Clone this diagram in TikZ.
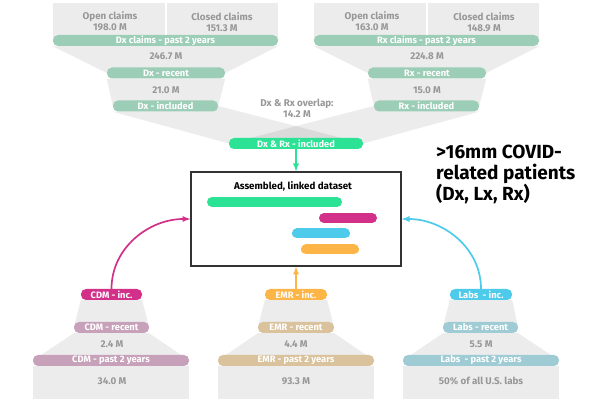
\documentclass[tikz,border=0pt]{standalone}
\usepackage{fontspec}
\setmainfont{Fira Sans}
\usetikzlibrary{arrows, positioning, backgrounds}

\definecolor{dxmint}{HTML}{9CCDB6}
\definecolor{dxrxgreen}{HTML}{2BE295}
\definecolor{cdmpink}{HTML}{D3308A}
\definecolor{cdmmauve}{HTML}{C7A1B9}
\definecolor{emrorange}{HTML}{FDB548}
\definecolor{emrtan}{HTML}{D9C29C}
\definecolor{labsblue}{HTML}{4ECBEA}
\definecolor{labsteal}{HTML}{9FCCD4}
\definecolor{numgray}{HTML}{979797}
\definecolor{boxdark}{HTML}{333333}

\tikzset{
  bar/.style={rounded corners=5pt, minimum height=11pt, inner sep=0pt,
    text=white, font=\fontsize{9.3}{9}\selectfont\bfseries},
  numtext/.style={inner sep=0pt, align=center, text=numgray,
    font=\fontsize{9.8}{11}\selectfont\bfseries},
  funnel/.style={fill=black, fill opacity=0.075},
  link/.style={->, >=latex, line width=1.7pt},
  track/.style={line width=10pt, line cap=round},
}

\begin{document}
\begin{tikzpicture}[x=1pt, y=-1pt]
\useasboundingbox (0,0) rectangle (600,403);
\coordinate (ceil) at (0,3);
\coordinate (floor) at (0,399);

% Dx claims funnel
\node[bar, fill=dxmint, minimum width=225pt] (dxpast) at (165.5,40.5) {Dx claims - past 2 years};
\node[bar, fill=dxmint, minimum width=118pt] (dxrec) at (166,73) {Dx - recent};
\node[bar, fill=dxmint, minimum width=105pt] (dxinc) at (165.5,106) {Dx - included};
\node[numtext] (dxopen) at (110,21.5) {Open claims\\198.0 M};
\node[numtext] (dxclosed) at (222,22) {Closed claims\\151.3 M};
\node[numtext] (dxpastnum) at (166,56.5) {246.7 M};
\node[numtext] (dxrecnum) at (166,90) {21.0 M};

% Rx claims funnel
\node[bar, fill=dxmint, minimum width=225pt] (rxpast) at (426.5,40.5) {Rx claims - past 2 years};
\node[bar, fill=dxmint, minimum width=118pt] (rxrec) at (427,73) {Rx - recent};
\node[bar, fill=dxmint, minimum width=105pt] (rxinc) at (426.5,106) {Rx - included};
\node[numtext] (rxopen) at (372,21.5) {Open claims\\163.0 M};
\node[numtext] (rxclosed) at (484,22) {Closed claims\\148.9 M};
\node[numtext] (rxpastnum) at (427,56.5) {224.8 M};
\node[numtext] (rxrecnum) at (427,90) {15.0 M};

% overlap
\node[numtext] (overlap) at (297,108.5) {Dx \& Rx overlap:\\14.2 M};
\node[bar, fill=dxrxgreen, minimum width=134pt] (dxrxinc) at (296,143.5) {Dx \& Rx - included};

% Linked dataset
\node[draw=boxdark, line width=1.2pt, minimum width=210pt, minimum height=94pt] (dataset) at (296,219) {};
\node[inner sep=0pt, font=\fontsize{9.8}{10}\selectfont\bfseries] (title) at (293,186) {Assembled, linked dataset};
\draw[track, dxrxgreen] (212,202) -- (337,202);
\draw[track, cdmpink] (324,218) -- (372,218);
\draw[track, labsblue] (297,233.5) -- (345,233.5);
\draw[track, emrorange] (306,249.5) -- (354,249.5);

\node[anchor=west, align=left, inner sep=0pt, font=\fontsize{19}{21}\selectfont\bfseries] (covid) at (436,174)
  {>16mm COVID-\\related patients\\(Dx, Lx, Rx)};

% CDM funnel
\node[bar, fill=cdmpink, minimum width=61pt] (cdminc) at (111.5,294.5) {CDM - inc.};
\node[bar, fill=cdmmauve, minimum width=75pt] (cdmrec) at (111.5,327.5) {CDM - recent};
\node[bar, fill=cdmmauve, minimum width=156pt] (cdmpast) at (111,360.5) {CDM - past 2 years};
\node[numtext] (cdmrecnum) at (112,344) {2.4 M};
\node[numtext] (cdmpastnum) at (112,381) {34.0 M};

% EMR funnel
\node[bar, fill=emrorange, minimum width=62pt] (emrinc) at (296,294.5) {EMR - inc.};
\node[bar, fill=emrtan, minimum width=76pt] (emrrec) at (296,327.5) {EMR - recent};
\node[bar, fill=emrtan, minimum width=156pt] (emrpast) at (296,360.5) {EMR - past 2 years};
\node[numtext] (emrrecnum) at (296,344) {4.4 M};
\node[numtext] (emrpastnum) at (296,381) {93.3 M};

% Labs funnel
\node[bar, fill=labsblue, minimum width=62pt] (labsinc) at (481,294.5) {Labs~ - inc.};
\node[bar, fill=labsteal, minimum width=75pt] (labsrec) at (480.5,327.5) {Labs - recent};
\node[bar, fill=labsteal, minimum width=156pt] (labspast) at (481,360.5) {Labs~ - past 2 years};
\node[numtext] (labsrecnum) at (481,344) {5.5 M};
\node[numtext] (labspastnum) at (481,381) {50\% of all U.S. labs};

% connectors
\draw[link, dxrxgreen] (dxrxinc) -- (dataset);
\draw[link, cdmpink] (cdminc.north) to[out=90, in=180] (dataset.west);
\draw[link, emrorange] (emrinc) -- (dataset);
\draw[link, labsblue] (labsinc.north) to[out=90, in=0] (dataset.east);

% gray funnels behind
\begin{scope}[on background layer]
\fill[funnel] (dxpast.west |- ceil) rectangle (dxpast.east);
\fill[funnel] (rxpast.west |- ceil) rectangle (rxpast.east);
\draw[white, line width=2pt] (166,3) -- (166,35);
\draw[white, line width=2pt] (427,3) -- (427,35);
\fill[funnel] (dxpast.south west) -- (dxpast.south east) -- (dxrec.east) -- (dxrec.west) -- cycle;
\fill[funnel] (dxrec.south west) -- (dxrec.south east) -- (dxinc.east) -- (dxinc.west) -- cycle;
\fill[funnel] (rxpast.south west) -- (rxpast.south east) -- (rxrec.east) -- (rxrec.west) -- cycle;
\fill[funnel] (rxrec.south west) -- (rxrec.south east) -- (rxinc.east) -- (rxinc.west) -- cycle;
\fill[funnel] (dxinc.south west) -- (dxinc.east) -- (dxrxinc.east) -- (dxrxinc.west) -- cycle;
\fill[funnel] (rxinc.west) -- (rxinc.south east) -- (dxrxinc.east) -- (dxrxinc.west) -- cycle;
\foreach \src in {cdm, emr, labs} {
  \fill[funnel] (\src inc.south west) -- (\src inc.south east) -- (\src rec.east) -- (\src rec.west) -- cycle;
  \fill[funnel] (\src rec.south west) -- (\src rec.south east) -- (\src past.east) -- (\src past.west) -- cycle;
  \fill[funnel] (\src past.south west) rectangle (\src past.east |- floor);
}
\end{scope}
\end{tikzpicture}
\end{document}
